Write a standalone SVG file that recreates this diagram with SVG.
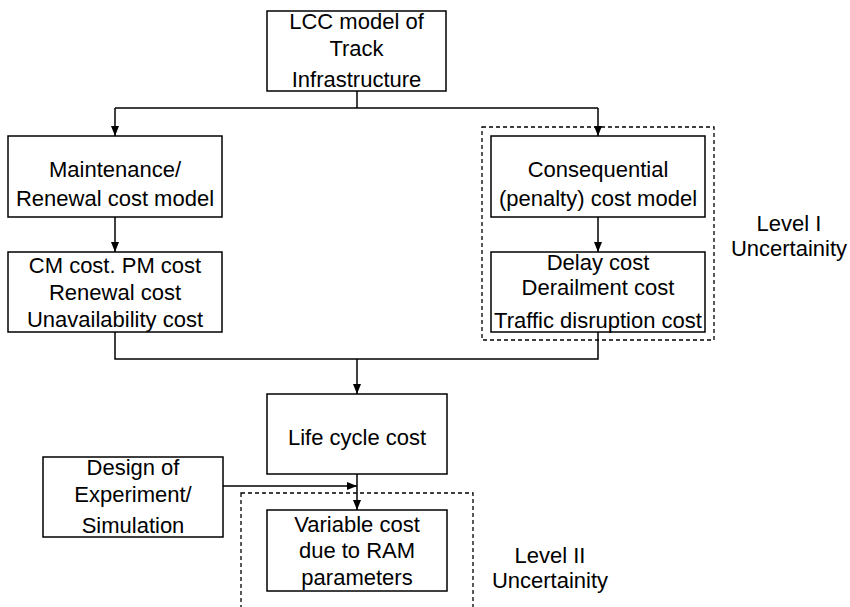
<svg xmlns="http://www.w3.org/2000/svg" width="850" height="607" viewBox="0 0 850 607">
  <style>
    .box { fill: #fff; stroke: #000; stroke-width: 1.5; }
    .zone { fill: none; stroke: #000; stroke-width: 1.3; stroke-dasharray: 4 3; }
    .wire { fill: none; stroke: #000; stroke-width: 1.5; }
    text { font-family: "Liberation Sans", Arial, sans-serif; font-size: 22px; fill: #000; text-anchor: middle; }
  </style>
  <defs>
    <marker id="arrow" viewBox="0 0 10 10" refX="10" refY="5" markerWidth="10" markerHeight="10" markerUnits="userSpaceOnUse" orient="auto">
      <path d="M0,1 L10,5 L0,9 Z" fill="#000"/>
    </marker>
  </defs>

  <rect width="850" height="607" fill="#fff"/>

  <!-- uncertainty zones -->
  <g id="zones">
    <rect class="zone" x="482" y="127" width="232" height="213"/>
    <rect class="zone" x="241" y="493" width="232" height="120"/>
  </g>

  <!-- connectors -->
  <g id="connectors">
    <path class="wire" d="M357,91 V108"/>
    <path class="wire" d="M115,108 H598"/>
    <path class="wire" d="M115,108 V136" marker-end="url(#arrow)"/>
    <path class="wire" d="M598,108 V136" marker-end="url(#arrow)"/>
    <path class="wire" d="M115,217 V252" marker-end="url(#arrow)"/>
    <path class="wire" d="M598,217 V252" marker-end="url(#arrow)"/>
    <path class="wire" d="M115,332 V359 H598 V332"/>
    <path class="wire" d="M357,359 V394" marker-end="url(#arrow)"/>
    <path class="wire" d="M357,474 V510" marker-end="url(#arrow)"/>
    <path class="wire" d="M223,486 H357" marker-end="url(#arrow)"/>
  </g>

  <g id="lcc-model">
    <rect class="box" x="267" y="11" width="179" height="80"/>
    <text x="356.5" y="29">LCC model of</text>
    <text x="356.5" y="56">Track</text>
    <text x="356.5" y="87">Infrastructure</text>
  </g>

  <g id="maintenance-model">
    <rect class="box" x="8" y="136" width="214" height="81"/>
    <text x="115" y="177">Maintenance/</text>
    <text x="115" y="206">Renewal cost model</text>
  </g>

  <g id="consequential-model">
    <rect class="box" x="491" y="136" width="214" height="81"/>
    <text x="598" y="177">Consequential</text>
    <text x="598" y="206">(penalty) cost model</text>
  </g>

  <g id="maintenance-costs">
    <rect class="box" x="8" y="252" width="214" height="80"/>
    <text x="115" y="273">CM cost. PM cost</text>
    <text x="115" y="300">Renewal cost</text>
    <text x="115" y="327">Unavailability cost</text>
  </g>

  <g id="penalty-costs">
    <rect class="box" x="491" y="252" width="214" height="80"/>
    <text x="598" y="270">Delay cost</text>
    <text x="598" y="295">Derailment cost</text>
    <text x="598" y="328">Traffic disruption cost</text>
  </g>

  <g id="level-1-label">
    <text x="789" y="231">Level I</text>
    <text x="789" y="256">Uncertainity</text>
  </g>

  <g id="life-cycle-cost">
    <rect class="box" x="267" y="394" width="180" height="80"/>
    <text x="357" y="445">Life cycle cost</text>
  </g>

  <g id="design-of-experiment">
    <rect class="box" x="43" y="457" width="180" height="80"/>
    <text x="133" y="475">Design of</text>
    <text x="133" y="502">Experiment/</text>
    <text x="133" y="533">Simulation</text>
  </g>

  <g id="variable-cost">
    <rect class="box" x="267" y="510" width="180" height="81"/>
    <text x="357" y="532">Variable cost</text>
    <text x="357" y="558">due to RAM</text>
    <text x="357" y="585">parameters</text>
  </g>

  <g id="level-2-label">
    <text x="550" y="563">Level II</text>
    <text x="550" y="588">Uncertainity</text>
  </g>
</svg>
